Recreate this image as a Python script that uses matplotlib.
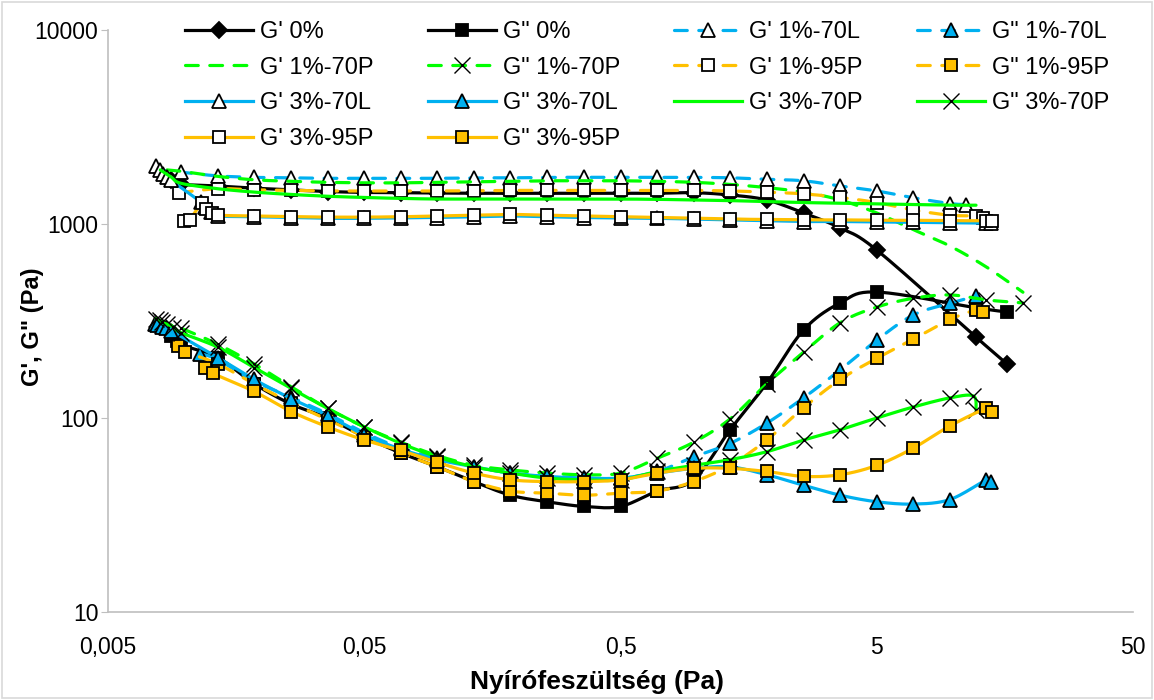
import numpy as np
import matplotlib.pyplot as plt
from matplotlib.lines import Line2D
from matplotlib.patches import Rectangle
from matplotlib.ticker import NullLocator

plt.rcParams['font.family'] = ['Liberation Sans', 'DejaVu Sans']

# Stress sweep steps (Pa), 7 per decade, from 0.00965 Pa up to 18.6 Pa
TAU = [0.00965, 0.0134, 0.0186, 0.0259, 0.0360, 0.0500, 0.0695, 0.0965,
       0.134, 0.186, 0.259, 0.360, 0.500, 0.695, 0.965, 1.34, 1.86, 2.59,
       3.60, 5.00, 6.95, 9.65, 13.4, 18.6]

# 0 %
x_g1_0 = [0.0088, 0.0093] + TAU[0:20] + [12.2, 16.1]
g1_0 = [1680, 1640, 1600, 1570, 1530, 1500, 1470, 1455, 1450, 1445, 1440, 1440,
        1440, 1440, 1440, 1440, 1450, 1411, 1330, 1140, 954, 734, 261, 190]
x_g2_0 = [0.0088, 0.0093] + TAU[0:20] + [12.2, 16.1]
g2_0 = [265, 250, 238, 205, 150, 118, 100, 80, 66, 56, 47, 40, 37, 35, 35, 42,
        48, 87, 151, 284, 392, 446, 370, 352]

# 1 %-70L
x_g1_70l1 = [0.0077, 0.0080] + TAU[0:22] + [11.1]
g1_70l1 = [1980, 1900, 1850, 1770, 1740, 1730, 1720, 1720, 1720, 1720, 1730, 1730,
           1740, 1740, 1740, 1740, 1740, 1730, 1700, 1670, 1570, 1480, 1365, 1275, 1260]
x_g2_70l1 = [0.0114] + TAU[1:22] + [12.2]
g2_70l1 = [215, 200, 155, 128, 105, 84, 70, 62, 56, 52, 50, 49, 49, 53, 63, 74,
           94, 127, 177, 252, 340, 390, 425]

# 1 %-70P
x_g1_70p1 = [0.0085] + TAU[0:24]
g1_70p1 = [1900, 1870, 1760, 1690, 1660, 1640, 1630, 1630, 1640, 1650, 1660, 1670,
           1670, 1670, 1660, 1640, 1600, 1540, 1460, 1330, 1140, 935, 770, 600, 445]
x_g2_70p1 = [0.0080, 0.0085] + TAU[0:24]
g2_70p1 = [320, 305, 290, 240, 190, 145, 112, 90, 75, 64, 57, 54, 52, 51, 52, 62,
           75, 99, 150, 218, 310, 373, 414, 431, 406, 392]

# 1 %-95P
x_g1_95p1 = [0.0095] + TAU[1:22] + [12.2, 13.0]
g1_95p1 = [1450, 1520, 1500, 1490, 1480, 1480, 1480, 1480, 1485, 1490, 1490, 1490,
           1490, 1490, 1490, 1480, 1460, 1430, 1370, 1290, 1180, 1110, 1100, 1080]
x_g2_95p1 = [0.0094, 0.0100] + TAU[1:22] + [12.2, 13.0]
g2_95p1 = [235, 220, 190, 150, 120, 98, 80, 66, 56, 47, 42, 41, 40, 41, 42, 47,
           57, 77, 113, 158, 203, 255, 322, 360, 352]

# 3 %-70L
x_g1_70l3 = [0.0082, 0.0085, 0.0088, 0.0115, 0.0120, 0.0126] + TAU[1:23] + [14.0]
g1_70l3 = [1820, 1740, 1680, 1300, 1220, 1150, 1100, 1090, 1080, 1070, 1070, 1075,
           1080, 1090, 1100, 1090, 1080, 1075, 1070, 1060, 1050, 1040, 1030, 1030,
           1025, 1020, 1015, 1010, 1010]
x_g2_70l3 = [0.0076, 0.0078, 0.0081, 0.0084, 0.0088] + TAU[1:23] + [13.9]
g2_70l3 = [305, 300, 296, 290, 282, 205, 158, 126, 103, 82, 69, 61, 56, 52, 50,
           49, 49, 52, 55, 56, 51, 45, 40, 37, 36, 38, 48, 47]

# 3 %-70P
x_g1_70p3 = [0.0080, 0.0088] + TAU[0:22] + [12.2]
g1_70p3 = [1900, 1750, 1620, 1520, 1460, 1420, 1390, 1370, 1355, 1345, 1345, 1345,
           1345, 1345, 1345, 1340, 1330, 1320, 1305, 1290, 1280, 1270, 1260, 1250, 1250]
x_g2_70p3 = [0.0077, 0.0081, 0.0090] + TAU[0:22] + [11.9, 12.2]
g2_70p3 = [325, 312, 295, 275, 232, 182, 142, 112, 90, 74, 63, 56, 52, 49, 48,
           48, 53, 57, 61, 67, 77, 87, 100, 114, 127, 130, 110]

# 3 %-95P
x_g1_95p3 = [0.0099, 0.0104, 0.0116, 0.0121, 0.0127] + TAU[1:23] + [14.1]
g1_95p3 = [1040, 1050, 1280, 1200, 1140, 1110, 1100, 1090, 1085, 1085, 1090, 1100,
           1110, 1120, 1110, 1100, 1090, 1080, 1070, 1060, 1055, 1050, 1050, 1045,
           1045, 1040, 1040, 1040]
x_g2_95p3 = [0.0120, 0.0128] + TAU[2:23] + [14.1]
g2_95p3 = [180, 170, 137, 108, 90, 77, 68, 59, 52, 48, 47, 47, 48, 52, 55, 55,
           53, 50, 51, 57, 70, 91, 112, 107]

BLUE = '#00B0F0'
GREEN = '#00FF00'
ORANGE = '#FFC000'
DASH = (0, (4, 3.6))

series = [
    ("G' 0%", x_g1_0, g1_0, 'black', '-', 'D', 'black', 8),
    ('G" 0%', x_g2_0, g2_0, 'black', '-', 's', 'black', 9),
    ("G' 1%-70L", x_g1_70l1, g1_70l1, BLUE, DASH, '^', 'white', 9.5),
    ('G" 1%-70L', x_g2_70l1, g2_70l1, BLUE, DASH, '^', BLUE, 9.5),
    ("G' 1%-70P", x_g1_70p1, g1_70p1, GREEN, DASH, None, None, 0),
    ('G" 1%-70P', x_g2_70p1, g2_70p1, GREEN, DASH, 'x', 'black', 12),
    ("G' 1%-95P", x_g1_95p1, g1_95p1, ORANGE, DASH, 's', 'white', 9),
    ('G" 1%-95P', x_g2_95p1, g2_95p1, ORANGE, DASH, 's', ORANGE, 9),
    ("G' 3%-70L", x_g1_70l3, g1_70l3, BLUE, '-', '^', 'white', 9.5),
    ('G" 3%-70L', x_g2_70l3, g2_70l3, BLUE, '-', '^', BLUE, 9.5),
    ("G' 3%-70P", x_g1_70p3, g1_70p3, GREEN, '-', None, None, 0),
    ('G" 3%-70P', x_g2_70p3, g2_70p3, GREEN, '-', 'x', 'black', 12),
    ("G' 3%-95P", x_g1_95p3, g1_95p3, ORANGE, '-', 's', 'white', 9),
    ('G" 3%-95P', x_g2_95p3, g2_95p3, ORANGE, '-', 's', ORANGE, 9),
]


def smooth(x, y, n=20):
    # Catmull-Rom curve through the points in log-log space
    p = np.column_stack([np.log10(x), np.log10(y)])
    q = np.vstack([p[0], p, p[-1]])
    t = np.linspace(0, 1, n, endpoint=False)[:, None]
    parts = []
    for i in range(1, len(q) - 2):
        p0, p1, p2, p3 = q[i - 1], q[i], q[i + 1], q[i + 2]
        parts.append(0.5 * (2 * p1 + (p2 - p0) * t
                            + (2 * p0 - 5 * p1 + 4 * p2 - p3) * t ** 2
                            + (3 * p1 - p0 - 3 * p2 + p3) * t ** 3))
    parts.append(p[-1:])
    s = np.vstack(parts)
    return 10 ** s[:, 0], 10 ** s[:, 1]


fig = plt.figure(figsize=(11.54, 7.0), dpi=100)
ax = fig.add_axes([108 / 1154, 1 - 612 / 700, 1025 / 1154, 582 / 700])

handles = []
for label, xs, ys, col, ls, mk, face, ms in series:
    sx, sy = smooth(xs, ys)
    ax.plot(sx, sy, color=col, ls=ls, lw=2.3, solid_capstyle='round',
            dash_capstyle='round')
    mew = 1.0 if mk == 'x' else 1.3
    if mk:
        ax.plot(xs, ys, ls='none', marker=mk, ms=ms, mfc=face, mec='black', mew=mew)
    handles.append(Line2D([], [], color=col, ls=ls, lw=2.3, marker=mk, ms=ms,
                          mfc=face, mec='black', mew=mew, label=label,
                          dash_capstyle='round'))

ax.set_xscale('log')
ax.set_yscale('log')
ax.set_xlim(0.005, 50)
ax.set_ylim(10, 10000)
ax.set_xticks([0.005, 0.05, 0.5, 5, 50])
ax.set_xticklabels(['0,005', '0,05', '0,5', '5', '50'])
ax.set_yticks([10, 100, 1000, 10000])
ax.set_yticklabels(['10', '100', '1000', '10000'])
ax.xaxis.set_minor_locator(NullLocator())
ax.yaxis.set_minor_locator(NullLocator())
ax.tick_params(axis='x', length=0, pad=17, labelsize=16.5)
ax.tick_params(axis='y', length=5, color='#BFBFBF', pad=2, labelsize=16.5)
for side in ('top', 'right'):
    ax.spines[side].set_visible(False)
for side in ('left', 'bottom'):
    ax.spines[side].set_color('#BFBFBF')
    ax.spines[side].set_linewidth(1.2)

ax.set_xlabel('Nyírófeszültség (Pa)', fontsize=19, fontweight='bold')
ax.xaxis.set_label_coords((597 - 108) / 1025, -0.1)
ax.set_ylabel('G\', G" (Pa)', fontsize=17, fontweight='bold')
ax.yaxis.set_label_coords(-0.062, 0.49)

# legend filled row by row, four entries per row
order = [0, 4, 8, 12, 1, 5, 9, 13, 2, 6, 10, 3, 7, 11]
fig.legend(handles=[handles[i] for i in order], ncol=4, loc='upper left',
           bbox_to_anchor=(185 / 1154, 1 - 21 / 700), frameon=False,
           fontsize=17, handlelength=2.88, handletextpad=0.3,
           columnspacing=2.29, labelspacing=0.58, borderpad=0, borderaxespad=0)

fig.add_artist(Rectangle((2 / 1154, 2 / 700), 1150 / 1154, 696 / 700,
                         transform=fig.transFigure, fill=False,
                         ec='#D9D9D9', lw=1.2))

fig.savefig('out.png', dpi=100)
